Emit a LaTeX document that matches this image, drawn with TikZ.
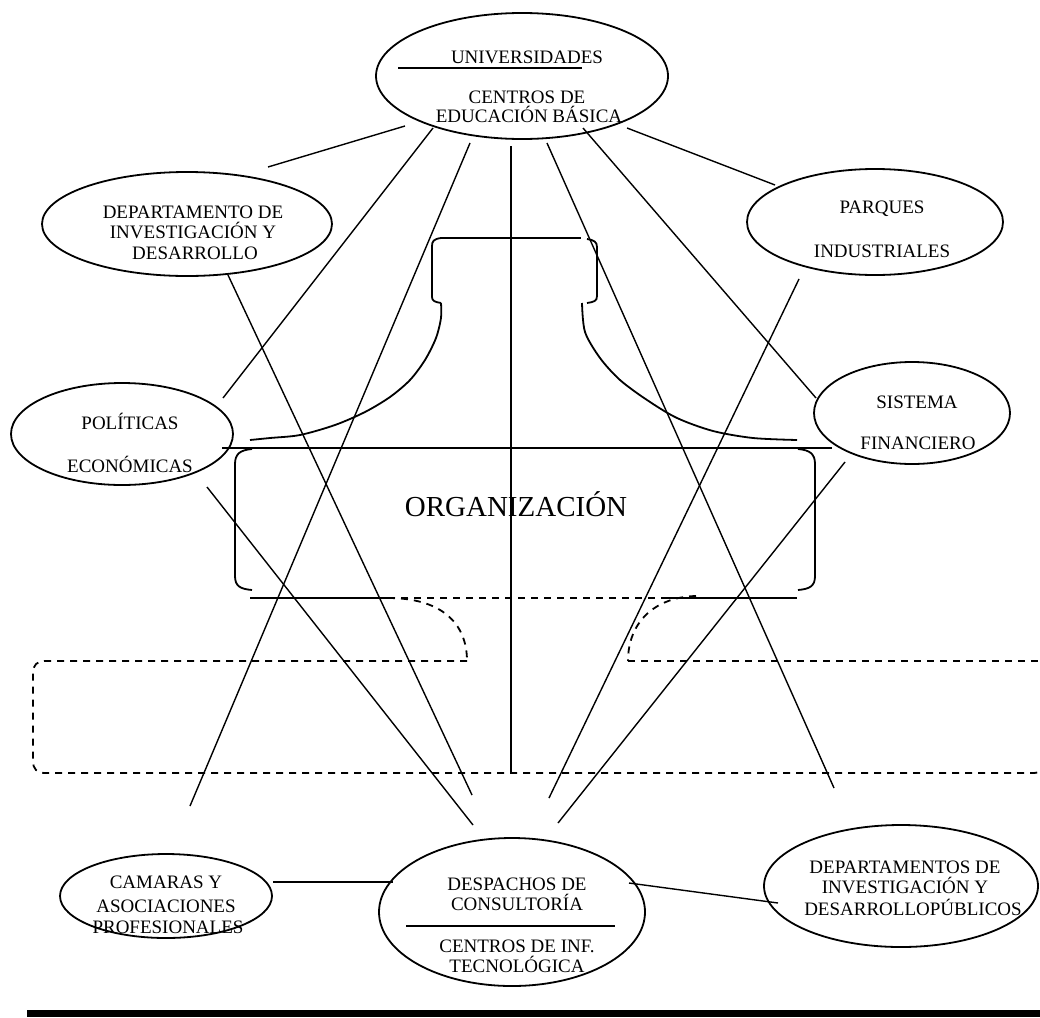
\documentclass[tikz,border=0pt]{standalone}
\usepackage{fontspec}
\setmainfont{Liberation Serif}
\begin{document}
\begin{tikzpicture}[x=1pt,y=-1pt,
  txt/.style={anchor=base,inner sep=0pt,font=\fontsize{19}{21}\selectfont},
  big/.style={anchor=base,inner sep=0pt,font=\fontsize{29}{33}\selectfont},
  link/.style={line width=1.4pt},
  solid2/.style={line width=1.8pt},
  dash2/.style={line width=1.8pt,dash pattern=on 7pt off 6pt}]
\useasboundingbox (0,0) rectangle (1040,1017);
% ellipses
\draw[solid2] (522,76) ellipse [x radius=146,y radius=63];
\draw[solid2] (187,224) ellipse [x radius=145,y radius=52];
\draw[solid2] (875,222) ellipse [x radius=128,y radius=53];
\draw[solid2] (122,434) ellipse [x radius=111,y radius=51];
\draw[solid2] (912,413) ellipse [x radius=98,y radius=51];
\draw[solid2] (166,896) ellipse [x radius=106,y radius=42];
\draw[solid2] (512,912) ellipse [x radius=133,y radius=74];
\draw[solid2] (901,886) ellipse [x radius=137,y radius=61];
% dividers
\draw[solid2] (398,68) -- (582,68);
\draw[solid2] (406,926) -- (615,926);
% texts
\node[txt] (t1) at (527,63) {UNIVERSIDADES};
\node[txt] (t2) at (527,103) {CENTROS DE};
\node[txt] (t3) at (529,122) {EDUCACIÓN BÁSICA};
\node[txt] (t4) at (193,218) {DEPARTAMENTO DE};
\node[txt] (t5) at (193,238) {INVESTIGACIÓN Y};
\node[txt] (t6) at (195,259) {DESARROLLO};
\node[txt] (t7) at (130,429) {POLÍTICAS};
\node[txt] (t8) at (130,472) {ECONÓMICAS};
\node[txt] (t9) at (882,213) {PARQUES};
\node[txt] (t10) at (882,257) {INDUSTRIALES};
\node[txt] (t11) at (917,408) {SISTEMA};
\node[txt] (t12) at (918,449) {FINANCIERO};
\node[big] (t13) at (516,516) {ORGANIZACIÓN};
\node[txt] (t14) at (166,888) {CAMARAS Y};
\node[txt] (t15) at (166,912) {ASOCIACIONES};
\node[txt] (t16) at (168,933) {PROFESIONALES};
\node[txt] (t17) at (517,890) {DESPACHOS DE};
\node[txt] (t18) at (517,910) {CONSULTORÍA};
\node[txt] (t19) at (517,952) {CENTROS DE INF.};
\node[txt] (t20) at (517,972) {TECNOLÓGICA};
\node[txt] (t21) at (905,873) {DEPARTAMENTOS DE};
\node[txt] (t22) at (905,893) {INVESTIGACIÓN Y};
\node[txt] (t23) at (913,915) {DESARROLLOPÚBLICOS};
% connector end points
\coordinate (u1) at (405,126); \coordinate (e1) at (268,167);
\coordinate (u2) at (433,128); \coordinate (e2) at (223,398);
\coordinate (u3) at (470,143); \coordinate (e3) at (190,806);
\coordinate (u4) at (511,146); \coordinate (e4) at (511,773);
\coordinate (u5) at (547,143); \coordinate (e5) at (834,788);
\coordinate (u6) at (583,128); \coordinate (e6) at (816,398);
\coordinate (u7) at (627,128); \coordinate (e7) at (775,185);
\coordinate (a1) at (228,275); \coordinate (b1) at (472,795);
\coordinate (a2) at (207,487); \coordinate (b2) at (473,825);
\coordinate (a3) at (799,279); \coordinate (b3) at (549,798);
\coordinate (a4) at (845,462); \coordinate (b4) at (558,823);
\coordinate (c1) at (273,882); \coordinate (c2) at (393,882);
\coordinate (c3) at (629,883); \coordinate (c4) at (778,903);
\foreach \s/\e in {u1/e1,u2/e2,u3/e3,u4/e4,u5/e5,u6/e6,u7/e7,a1/b1,a2/b2,a3/b3,a4/b4,c1/c2,c3/c4}
  \draw[link] (\s) -- (\e);
% organization box
\draw[solid2] (222,448) -- (832,448);
\draw[solid2] (252,449) .. controls (240,450) and (235,454) .. (235,464) -- (235,576) .. controls (235,586) and (240,589) .. (252,590);
\draw[solid2] (798,449) .. controls (810,450) and (815,454) .. (815,464) -- (815,576) .. controls (815,586) and (810,589) .. (798,590);
\draw[solid2] (250,598) -- (388,598);
\draw[solid2] (665,598) -- (797,598);
% bottle neck
\draw[solid2] (440,238) -- (581,238);
\draw[solid2] (441,238) .. controls (434,239) and (432,241) .. (432,246) -- (432,297) .. controls (432,301) and (435,302) .. (441,303);
\draw[solid2] (587,239) .. controls (594,240) and (597,242) .. (597,247) -- (597,296) .. controls (597,301) and (594,302) .. (587,303);
\draw[solid2] plot[smooth] coordinates {(441,303) (441,318) (436,338) (425,360) (410,380) (390,397) (365,412) (335,425) (300,435) (270,438) (250,440)};
\draw[solid2] plot[smooth] coordinates {(582,303) (585,332) (600,358) (620,380) (647,400) (677,418) (713,431) (753,438) (797,440)};
% dashed lower shape
\begin{scope}
\clip (0,0) rectangle (1040,1017);
\draw[dash2] (388,598) -- (665,598);
\draw[dash2] (388,598) .. controls (440,598) and (467,622) .. (467,661);
\draw[dash2] (696,596) .. controls (655,597) and (628,622) .. (628,661);
\draw[dash2] (467,661) -- (45,661) .. controls (37,661) and (33,665) .. (33,673) -- (33,761) .. controls (33,769) and (37,773) .. (45,773) -- (1033,773) .. controls (1041,773) and (1045,769) .. (1045,761);
\draw[dash2] (628,661) -- (1050,661);
\end{scope}
% bottom bar
\fill (27,1010) rectangle (1040,1017);
\end{tikzpicture}
\end{document}
